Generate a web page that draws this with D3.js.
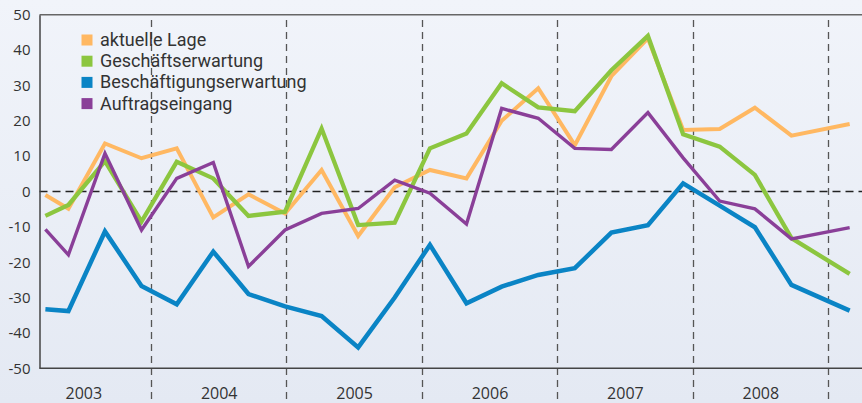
<!DOCTYPE html>
<html>
<head>
<meta charset="utf-8">
<script src="https://cdn.jsdelivr.net/npm/d3@7"></script>
<style>
  html, body { margin: 0; padding: 0; background: #eef1f8; }
  svg { display: block; }
  text { font-family: "Open Sans", "Noto Sans", sans-serif; fill: #333; }
</style>
</head>
<body>
<svg id="chart" width="862" height="403"></svg>
<script>
// ---- data ----
const periods = [2003.22, 2003.39, 2003.66, 2003.93, 2004.19, 2004.46, 2004.72, 2004.99,
                 2005.26, 2005.53, 2005.80, 2006.06, 2006.33, 2006.59, 2006.86, 2007.13,
                 2007.40, 2007.67, 2007.93, 2008.20, 2008.46, 2008.73, 2009.16];
const aktuelleLage = [-1.0, -4.9, 13.6, 9.4, 12.2, -7.3, -0.8, -6.2, 6.1, -12.6, 1.2, 6.1,
                      3.7, 20.0, 29.2, 13.1, 32.6, 43.3, 17.4, 17.7, 23.7, 15.8, 19.1];
const geschaeftserwartung = [-6.9, -3.8, 8.6, -8.5, 8.4, 3.7, -6.9, -5.7, 17.8, -9.5, -8.8, 12.2,
                             16.4, 30.6, 23.8, 22.7, 34.3, 44.0, 16.2, 12.7, 4.7, -13.2, -23.3];
const beschaeftigungserwartung = [-33.3, -33.8, -11.3, -26.7, -31.9, -17.0, -29.0, -32.5, -35.2, -44.1, -30.0, -15.1,
                                  -31.6, -26.9, -23.6, -21.7, -11.6, -9.5, 2.3, -4.0, -10.1, -26.4, -33.7];
const auftragseingang = [-10.7, -17.9, 10.8, -10.9, 3.7, 8.2, -21.2, -10.9, -6.2, -4.8, 3.2, -0.5,
                         -9.2, 23.5, 20.7, 12.2, 11.9, 22.3, 9.5, -2.7, -4.9, -13.4, -10.2];
const seriesNames = ["aktuelle Lage", "Geschäftserwartung", "Beschäftigungserwartung", "Auftragseingang"];
const yearBoundaries = [2004, 2005, 2006, 2007, 2008, 2009];
const yearLabels = [2003, 2004, 2005, 2006, 2007, 2008];
const yTicks = [50, 40, 30, 20, 10, 0, -10, -20, -30, -40, -50];

// ---- styling ----
const colors = ["#ffb862", "#8cc63f", "#0a84c5", "#8a3f98"];
const widths = [4, 4.3, 4.5, 3.4];
const seriesData = [aktuelleLage, geschaeftserwartung, beschaeftigungserwartung, auftragseingang];

const W = 862, H = 403;
const mLeft = 39.5, mRight = 862, mTop = 14.7, mBottom = 368.3;

const svg = d3.select("#chart");
const defs = svg.append("defs");
const grad = defs.append("linearGradient").attr("id", "bg").attr("x1", 0).attr("y1", 0).attr("x2", 0).attr("y2", 1);
grad.append("stop").attr("offset", "0%").attr("stop-color", "#f1f4fa");
grad.append("stop").attr("offset", "100%").attr("stop-color", "#e4e9f3");
svg.append("rect").attr("width", W).attr("height", H).attr("fill", "url(#bg)");

const x = d3.scaleLinear().domain([2004, 2009]).range([151, 828]);
const y = d3.scaleLinear().domain([-50, 50]).range([mBottom, mTop]);

// vertical dashed year separators
svg.append("g").selectAll("line").data(yearBoundaries).join("line")
  .attr("x1", d => Math.round(x(d)) + 0.5).attr("x2", d => Math.round(x(d)) + 0.5)
  .attr("y1", 20).attr("y2", H)
  .attr("stroke", "#555").attr("stroke-width", 1.3)
  .attr("stroke-dasharray", "7,5");

// zero line
svg.append("line")
  .attr("x1", mLeft).attr("x2", mRight).attr("y1", y(0)).attr("y2", y(0))
  .attr("stroke", "#222").attr("stroke-width", 1.3).attr("stroke-dasharray", "8,5");

// top border
svg.append("line").attr("x1", mLeft).attr("x2", mRight).attr("y1", mTop).attr("y2", mTop)
  .attr("stroke", "#666").attr("stroke-width", 1.5);

// y axis
const yAxis = svg.append("g").attr("transform", `translate(${mLeft},0)`)
  .call(d3.axisLeft(y).tickValues(yTicks).tickSize(0).tickPadding(9).tickFormat(d => String(d)));
yAxis.select(".domain").attr("stroke", "#444").attr("stroke-width", 1.5);
yAxis.selectAll("text").style("font-size", "15px").attr("fill", "#333")
  .style("font-family", "'Open Sans', sans-serif");

// x axis (bottom line + year labels centered in each year)
const xAxis = svg.append("g").attr("transform", `translate(0,${mBottom})`)
  .call(d3.axisBottom(x).tickValues(yearLabels.map(d => d + 0.5)).tickSize(0).tickPadding(19)
    .tickFormat(d => String(Math.floor(d))));
xAxis.select(".domain").remove();
xAxis.selectAll("text").style("font-size", "16px").attr("fill", "#333")
  .style("font-family", "'Open Sans', sans-serif");
svg.append("line").attr("x1", mLeft).attr("x2", mRight).attr("y1", mBottom).attr("y2", mBottom)
  .attr("stroke", "#444").attr("stroke-width", 1.5);

// lines
const line = d3.line().x((d, i) => x(periods[i])).y(d => y(d));
svg.append("g").selectAll("path").data(seriesData).join("path")
  .attr("d", d => line(d))
  .attr("fill", "none")
  .attr("stroke", (d, i) => colors[i])
  .attr("stroke-width", (d, i) => widths[i])
  .attr("stroke-linejoin", "miter")
  .attr("stroke-linecap", "butt");

// legend
const lg = svg.append("g").attr("transform", "translate(81.5,34.5)");
const items = lg.selectAll("g").data(seriesNames).join("g")
  .attr("transform", (d, i) => `translate(0,${i * 21.2})`);
items.append("rect").attr("width", 11).attr("height", 11).attr("fill", (d, i) => colors[i]);
items.append("text").attr("x", 18.5).attr("y", 11.5).text(d => d)
  .style("font-size", "18px").style("font-family", "Roboto, sans-serif").attr("fill", "#333");
</script>
</body>
</html>
